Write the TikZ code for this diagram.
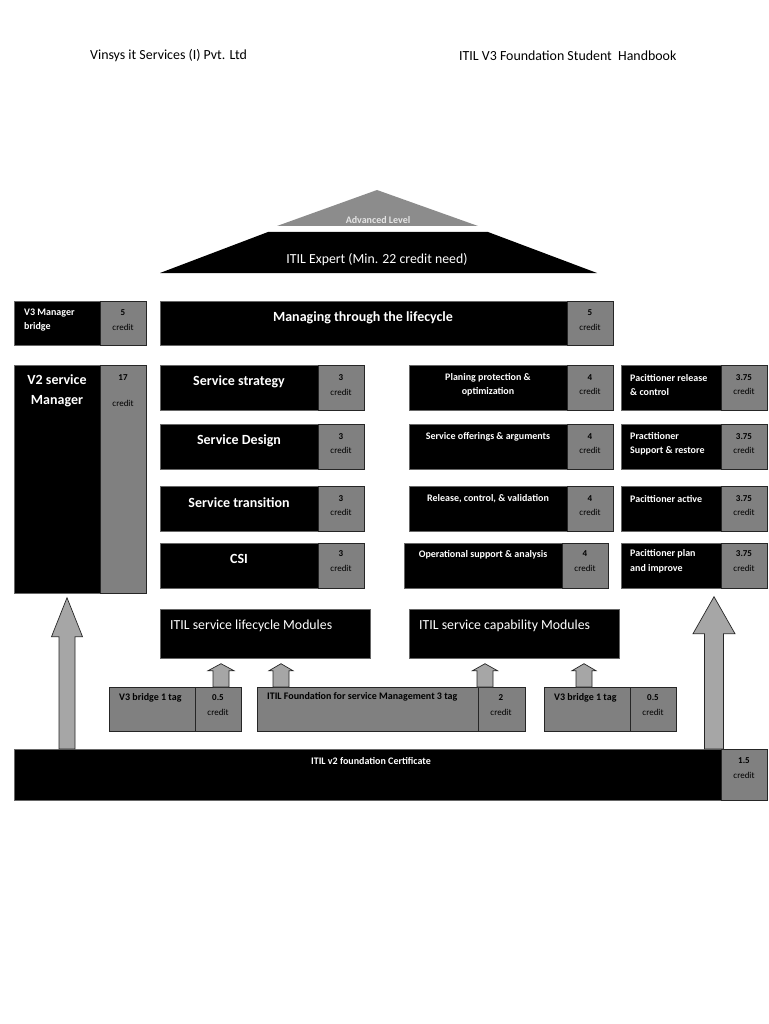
\documentclass[tikz,border=0pt]{standalone}
\usepackage{fontspec}
\setmainfont{Carlito}
\usepackage{tikz}
\usetikzlibrary{calc}
\definecolor{boxgray}{HTML}{808080}
\definecolor{arrowgray}{HTML}{A6A6A6}
\definecolor{toplevel}{HTML}{8C8C8C}
\tikzset{
  blk/.style={draw=black!60, line width=.7pt, fill=black, anchor=north west, inner sep=0pt},
  gry/.style={draw=black!85, line width=.7pt, fill=boxgray, anchor=north west, inner sep=0pt},
  bigtxt/.style={text=white, inner sep=0pt, yshift=-2pt, font=\fontsize{14}{16}\selectfont\bfseries},
  midtxt/.style={text=white, inner sep=0pt, yshift=-2pt, font=\fontsize{13.8}{16}\selectfont},
  smalltxt/.style={text=white, inner sep=0pt, align=center, font=\fontsize{10}{14.5}\selectfont\bfseries},
  graytxt/.style={text=black, inner sep=0pt, font=\fontsize{10}{14.5}\selectfont\bfseries},
  credtxt/.style={text=black, inner sep=0pt, align=center, font=\fontsize{9}{14.5}\selectfont},
  blockup/.style n args={4}{draw=black!85, line width=.7pt, fill=arrowgray,
    to path={let \p1=(\tikztostart), \p2=(\tikztotarget) in
      (\x1-#1,\y1) -- (\x1-#1,\y2-#4-#3) -- (\x1-#2,\y2-#4-#3) -- (\x1,\y2-#4)
      -- (\x1+#2,\y2-#4-#3) -- (\x1+#1,\y2-#4-#3) -- (\x1+#1,\y1) -- cycle}},
}

\begin{document}
\begin{tikzpicture}[x=1pt,y=-1pt]
        \fill[white] (0,0) rectangle (768,1024);
        \useasboundingbox (0,0) rectangle (768,1024);

        \node[anchor=west, inner sep=0pt, font=\fontsize{13.9}{16}\selectfont] (company) at (90,56) {Vinsys it Services (I) Pvt. Ltd};
        \node[anchor=west, inner sep=0pt, font=\fontsize{13.9}{16}\selectfont] (book) at (459,56) {ITIL V3 Foundation Student\ \ Handbook};

        \fill[toplevel] (377,190) -- (478,226) -- (277,226) -- cycle;
        \node[inner sep=0pt, text=black!10, font=\fontsize{10}{12}\selectfont\bfseries] (adv) at (378,220) {Advanced Level};
        \fill[black] (268,232) -- (488,232) -- (597,273) -- (160,273) -- cycle;
        \node[midtxt] (expert) at (377,258) {ITIL Expert (Min. 22 credit need)};

        \node[blk, minimum width=132, minimum height=44] (mv3) at (14,301) {};
        \node[gry, minimum width=46, minimum height=44] (mv3c) at (100,301) {};
        \node[smalltxt, anchor=west, align=left] (mv3t) at (24,320) {V3 Manager\\bridge};
        \node[credtxt] (mv3n) at (123,320) {\textbf{5}\\credit};

        \node[blk, minimum width=453, minimum height=44] (mtl) at (160,301) {};
        \node[gry, minimum width=46, minimum height=44] (mtlc) at (567,301) {};
        \node[bigtxt] (mtlt) at (363,316) {Managing through the lifecycle};
        \node[credtxt] (mtln) at (590,320) {\textbf{5}\\credit};

        \node[blk, minimum width=132, minimum height=228] (v2) at (14,365) {};
        \node[gry, minimum width=46, minimum height=228] (v2c) at (100,365) {};
        \node[text=white, inner sep=0pt, align=center, font=\fontsize{14}{20}\selectfont\bfseries] (v2t) at (57,391) {V2 service\\Manager};
        \node[credtxt] (v2n) at (123,390.5) {\textbf{17}\\[12pt]credit};

        \node[blk, minimum width=204, minimum height=45] (ss) at (160,365) {};
        \node[gry, minimum width=46, minimum height=45] (ssc) at (318,365) {};
        \node[bigtxt] (sst) at (239,380) {Service strategy};
        \node[credtxt] (ssn) at (341,385) {\textbf{3}\\credit};

        \node[blk, minimum width=204, minimum height=45] (sd) at (160,424) {};
        \node[gry, minimum width=46, minimum height=45] (sdc) at (318,424) {};
        \node[bigtxt] (sdt) at (239,439) {Service Design};
        \node[credtxt] (sdn) at (341,443.5) {\textbf{3}\\credit};

        \node[blk, minimum width=204, minimum height=45] (st) at (160,486) {};
        \node[gry, minimum width=46, minimum height=45] (stc) at (318,486) {};
        \node[bigtxt] (stt) at (239,501) {Service transition};
        \node[credtxt] (stn) at (341,505.5) {\textbf{3}\\credit};

        \node[blk, minimum width=204, minimum height=45] (csi) at (160,543) {};
        \node[gry, minimum width=46, minimum height=45] (csic) at (318,543) {};
        \node[bigtxt] (csit) at (239,557) {CSI};
        \node[credtxt] (csin) at (341,561) {\textbf{3}\\credit};

        \node[blk, minimum width=204, minimum height=45] (ppo) at (409,365) {};
        \node[gry, minimum width=46, minimum height=45] (ppoc) at (567,365) {};
        \node[smalltxt] (ppot) at (488,385) {Planing protection \&\\optimization};
        \node[credtxt] (ppon) at (590,384.5) {\textbf{4}\\credit};

        \node[blk, minimum width=204, minimum height=45] (soa) at (409,424) {};
        \node[gry, minimum width=46, minimum height=45] (soac) at (567,424) {};
        \node[smalltxt] (soat) at (488,437) {Service offerings \& arguments};
        \node[credtxt] (soan) at (590,443.5) {\textbf{4}\\credit};

        \node[blk, minimum width=204, minimum height=45] (rcv) at (409,486) {};
        \node[gry, minimum width=46, minimum height=45] (rcvc) at (567,486) {};
        \node[smalltxt] (rcvt) at (488,499) {Release, control, \& validation};
        \node[credtxt] (rcvn) at (590,505.5) {\textbf{4}\\credit};

        \node[blk, minimum width=204, minimum height=45] (osa) at (404,543) {};
        \node[gry, minimum width=46, minimum height=45] (osac) at (562,543) {};
        \node[smalltxt] (osat) at (483,555) {Operational support \& analysis};
        \node[credtxt] (osan) at (585,561) {\textbf{4}\\credit};

        \node[blk, minimum width=146, minimum height=45] (pr1) at (621,365) {};
        \node[gry, minimum width=46, minimum height=45] (pr1c) at (721,365) {};
        \node[smalltxt, anchor=west, align=left] (pr1t) at (630,385) {Pacittioner release\\\& control};
        \node[credtxt] (pr1n) at (744,384.5) {\textbf{3.75}\\credit};

        \node[blk, minimum width=146, minimum height=45] (pr2) at (621,424) {};
        \node[gry, minimum width=46, minimum height=45] (pr2c) at (721,424) {};
        \node[smalltxt, anchor=west, align=left] (pr2t) at (630,444) {Practitioner\\Support \& restore};
        \node[credtxt] (pr2n) at (744,443.5) {\textbf{3.75}\\credit};

        \node[blk, minimum width=146, minimum height=45] (pr3) at (621,486) {};
        \node[gry, minimum width=46, minimum height=45] (pr3c) at (721,486) {};
        \node[smalltxt, anchor=west, align=left] (pr3t) at (630,499) {Pacittioner active};
        \node[credtxt] (pr3n) at (744,505.5) {\textbf{3.75}\\credit};

        \node[blk, minimum width=146, minimum height=45] (pr4) at (621,543) {};
        \node[gry, minimum width=46, minimum height=45] (pr4c) at (721,543) {};
        \node[smalltxt, anchor=west, align=left] (pr4t) at (630,561.5) {Pacittioner plan\\and improve};
        \node[credtxt] (pr4n) at (744,561) {\textbf{3.75}\\credit};

        \node[blk, minimum width=210, minimum height=49] (lcm) at (160,609) {};
        \node[midtxt, anchor=west] (lcmt) at (170,624) {ITIL service lifecycle Modules};
        \node[blk, minimum width=210, minimum height=49] (cpm) at (409,609) {};
        \node[midtxt, anchor=west] (cpmt) at (419,624) {ITIL service capability Modules};

        \node[gry, minimum width=86, minimum height=44] (v3l) at (109,687) {};
        \node[gry, minimum width=46, minimum height=44] (v3lc) at (195,687) {};
        \node[graytxt, anchor=west] (v3lt) at (119,698) {V3 bridge 1 tag};
        \node[credtxt] (v3ln) at (218,705) {\textbf{0.5}\\credit};

        \node[gry, minimum width=221, minimum height=44] (fnd) at (257,687) {};
        \node[gry, minimum width=47, minimum height=44] (fndc) at (478,687) {};
        \node[graytxt, anchor=west] (fndt) at (267,697) {ITIL Foundation for service Management 3 tag};
        \node[credtxt] (fndn) at (501,705) {\textbf{2}\\credit};

        \node[gry, minimum width=86, minimum height=44] (v3r) at (544,687) {};
        \node[gry, minimum width=46, minimum height=44] (v3rc) at (630,687) {};
        \node[graytxt, anchor=west] (v3rt) at (554,698) {V3 bridge 1 tag};
        \node[credtxt] (v3rn) at (653,705) {\textbf{0.5}\\credit};

        \node[blk, minimum width=708, minimum height=51] (cert) at (14,749) {};
        \node[gry, minimum width=46, minimum height=51] (certc) at (721,749) {};
        \node[smalltxt] (certt) at (371,761) {ITIL v2 foundation Certificate};
        \node[credtxt] (certn) at (744,768) {\textbf{1.5}\\credit};

        \draw[blockup={8pt}{13pt}{7pt}{5pt}] (221,0 |- v3lc.north) to (221,0 |- lcm.south);
        \draw[blockup={8pt}{12pt}{7pt}{5pt}] (281,0 |- fnd.north) to (281,0 |- lcm.south);
        \draw[blockup={8pt}{12.5pt}{7pt}{5pt}] (485,0 |- fndc.north) to (485,0 |- cpm.south);
        \draw[blockup={8pt}{12pt}{7pt}{5pt}] (584,0 |- v3r.north) to (584,0 |- cpm.south);
        \draw[blockup={8pt}{15.5pt}{39pt}{4pt}] (67,0 |- cert.north) to (67,0 |- v2.south);
        \draw[blockup={9.5pt}{21pt}{37pt}{8pt}] (714,0 |- cert.north) to (714,0 |- pr4.south);
      \end{tikzpicture}
\end{document}
